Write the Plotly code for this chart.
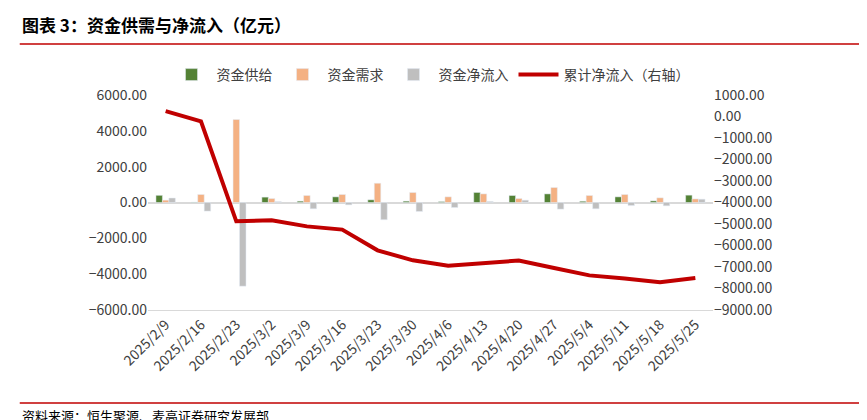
import plotly.graph_objects as go

dates = ["2025/2/9", "2025/2/16", "2025/2/23", "2025/3/2", "2025/3/9", "2025/3/16", "2025/3/23", "2025/3/30",
         "2025/4/6", "2025/4/13", "2025/4/20", "2025/4/27", "2025/5/4", "2025/5/11", "2025/5/18", "2025/5/25"]
supply = [400, 20, 0, 300, 75, 315, 150, 75, 50, 560, 390, 480, 70, 315, 90, 410]
demand = [130, 445, 4630, 220, 390, 445, 1075, 556, 315, 480, 220, 834, 390, 445, 260, 200]
net = [250, -480, -4670, 50, -350, -130, -960, -500, -280, 60, 130, -370, -350, -170, -185, 185]
cum_net = [250, -225, -4875, -4830, -5110, -5260, -6225, -6690, -6940, -6840, -6700, -7050, -7390, -7540, -7710, -7510]

font = "Noto Sans CJK SC"
fig = go.Figure()
fig.add_trace(go.Bar(x=dates, y=supply, name="资金供给", marker_color="#548235"))
fig.add_trace(go.Bar(x=dates, y=demand, name="资金需求", marker_color="#F4B183"))
fig.add_trace(go.Bar(x=dates, y=net, name="资金净流入", marker_color="#BFBFBF"))
fig.add_trace(go.Scatter(x=dates, y=cum_net, name="累计净流入（右轴）", mode="lines",
                         line=dict(color="#C00000", width=4), yaxis="y2"))

fig.update_layout(
    width=867, height=420, plot_bgcolor="white", paper_bgcolor="white",
    font=dict(family=font, size=13, color="#404040"),
    margin=dict(l=140, r=162, t=87, b=118, autoexpand=False),
    barmode="group", bargap=0.45, bargroupgap=0,
    showlegend=True,
    legend=dict(orientation="h", x=0.5, xanchor="center", y=1.093, yanchor="middle",
                font=dict(size=14), itemwidth=40),
    xaxis=dict(tickangle=-45, showline=True, linecolor="#D9D9D9", ticks="", tickfont=dict(size=14)),
    yaxis=dict(range=[-6000, 6000], dtick=2000, tickformat=".2f", showgrid=False, zeroline=True,
               zerolinecolor="#D9D9D9", tickfont=dict(size=14)),
    yaxis2=dict(range=[-9000, 1000], dtick=1000, tickformat=".2f", overlaying="y", side="right",
                showgrid=False, zeroline=False, tickfont=dict(size=14)),
    shapes=[
        dict(type="line", xref="paper", yref="paper", x0=-0.227, x1=1.265, y0=1.237, y1=1.237,
             line=dict(color="#C00000", width=1.5)),
        dict(type="line", xref="paper", yref="paper", x0=-0.227, x1=1.265, y0=-0.433, y1=-0.433,
             line=dict(color="#C00000", width=1.5)),
    ],
    annotations=[
        dict(text="<b>图表 3：资金供需与净流入（亿元）</b>", xref="paper", yref="paper", x=-0.227, y=1.326,
             xanchor="left", yanchor="middle", showarrow=False, font=dict(size=17, color="#000000")),
        dict(text="资料来源：恒生聚源、麦高证券研究发展部", xref="paper", yref="paper", x=-0.227, y=-0.49,
             xanchor="left", yanchor="middle", showarrow=False, font=dict(size=13, color="#000000")),
    ],
)
fig.write_html("out.html")
